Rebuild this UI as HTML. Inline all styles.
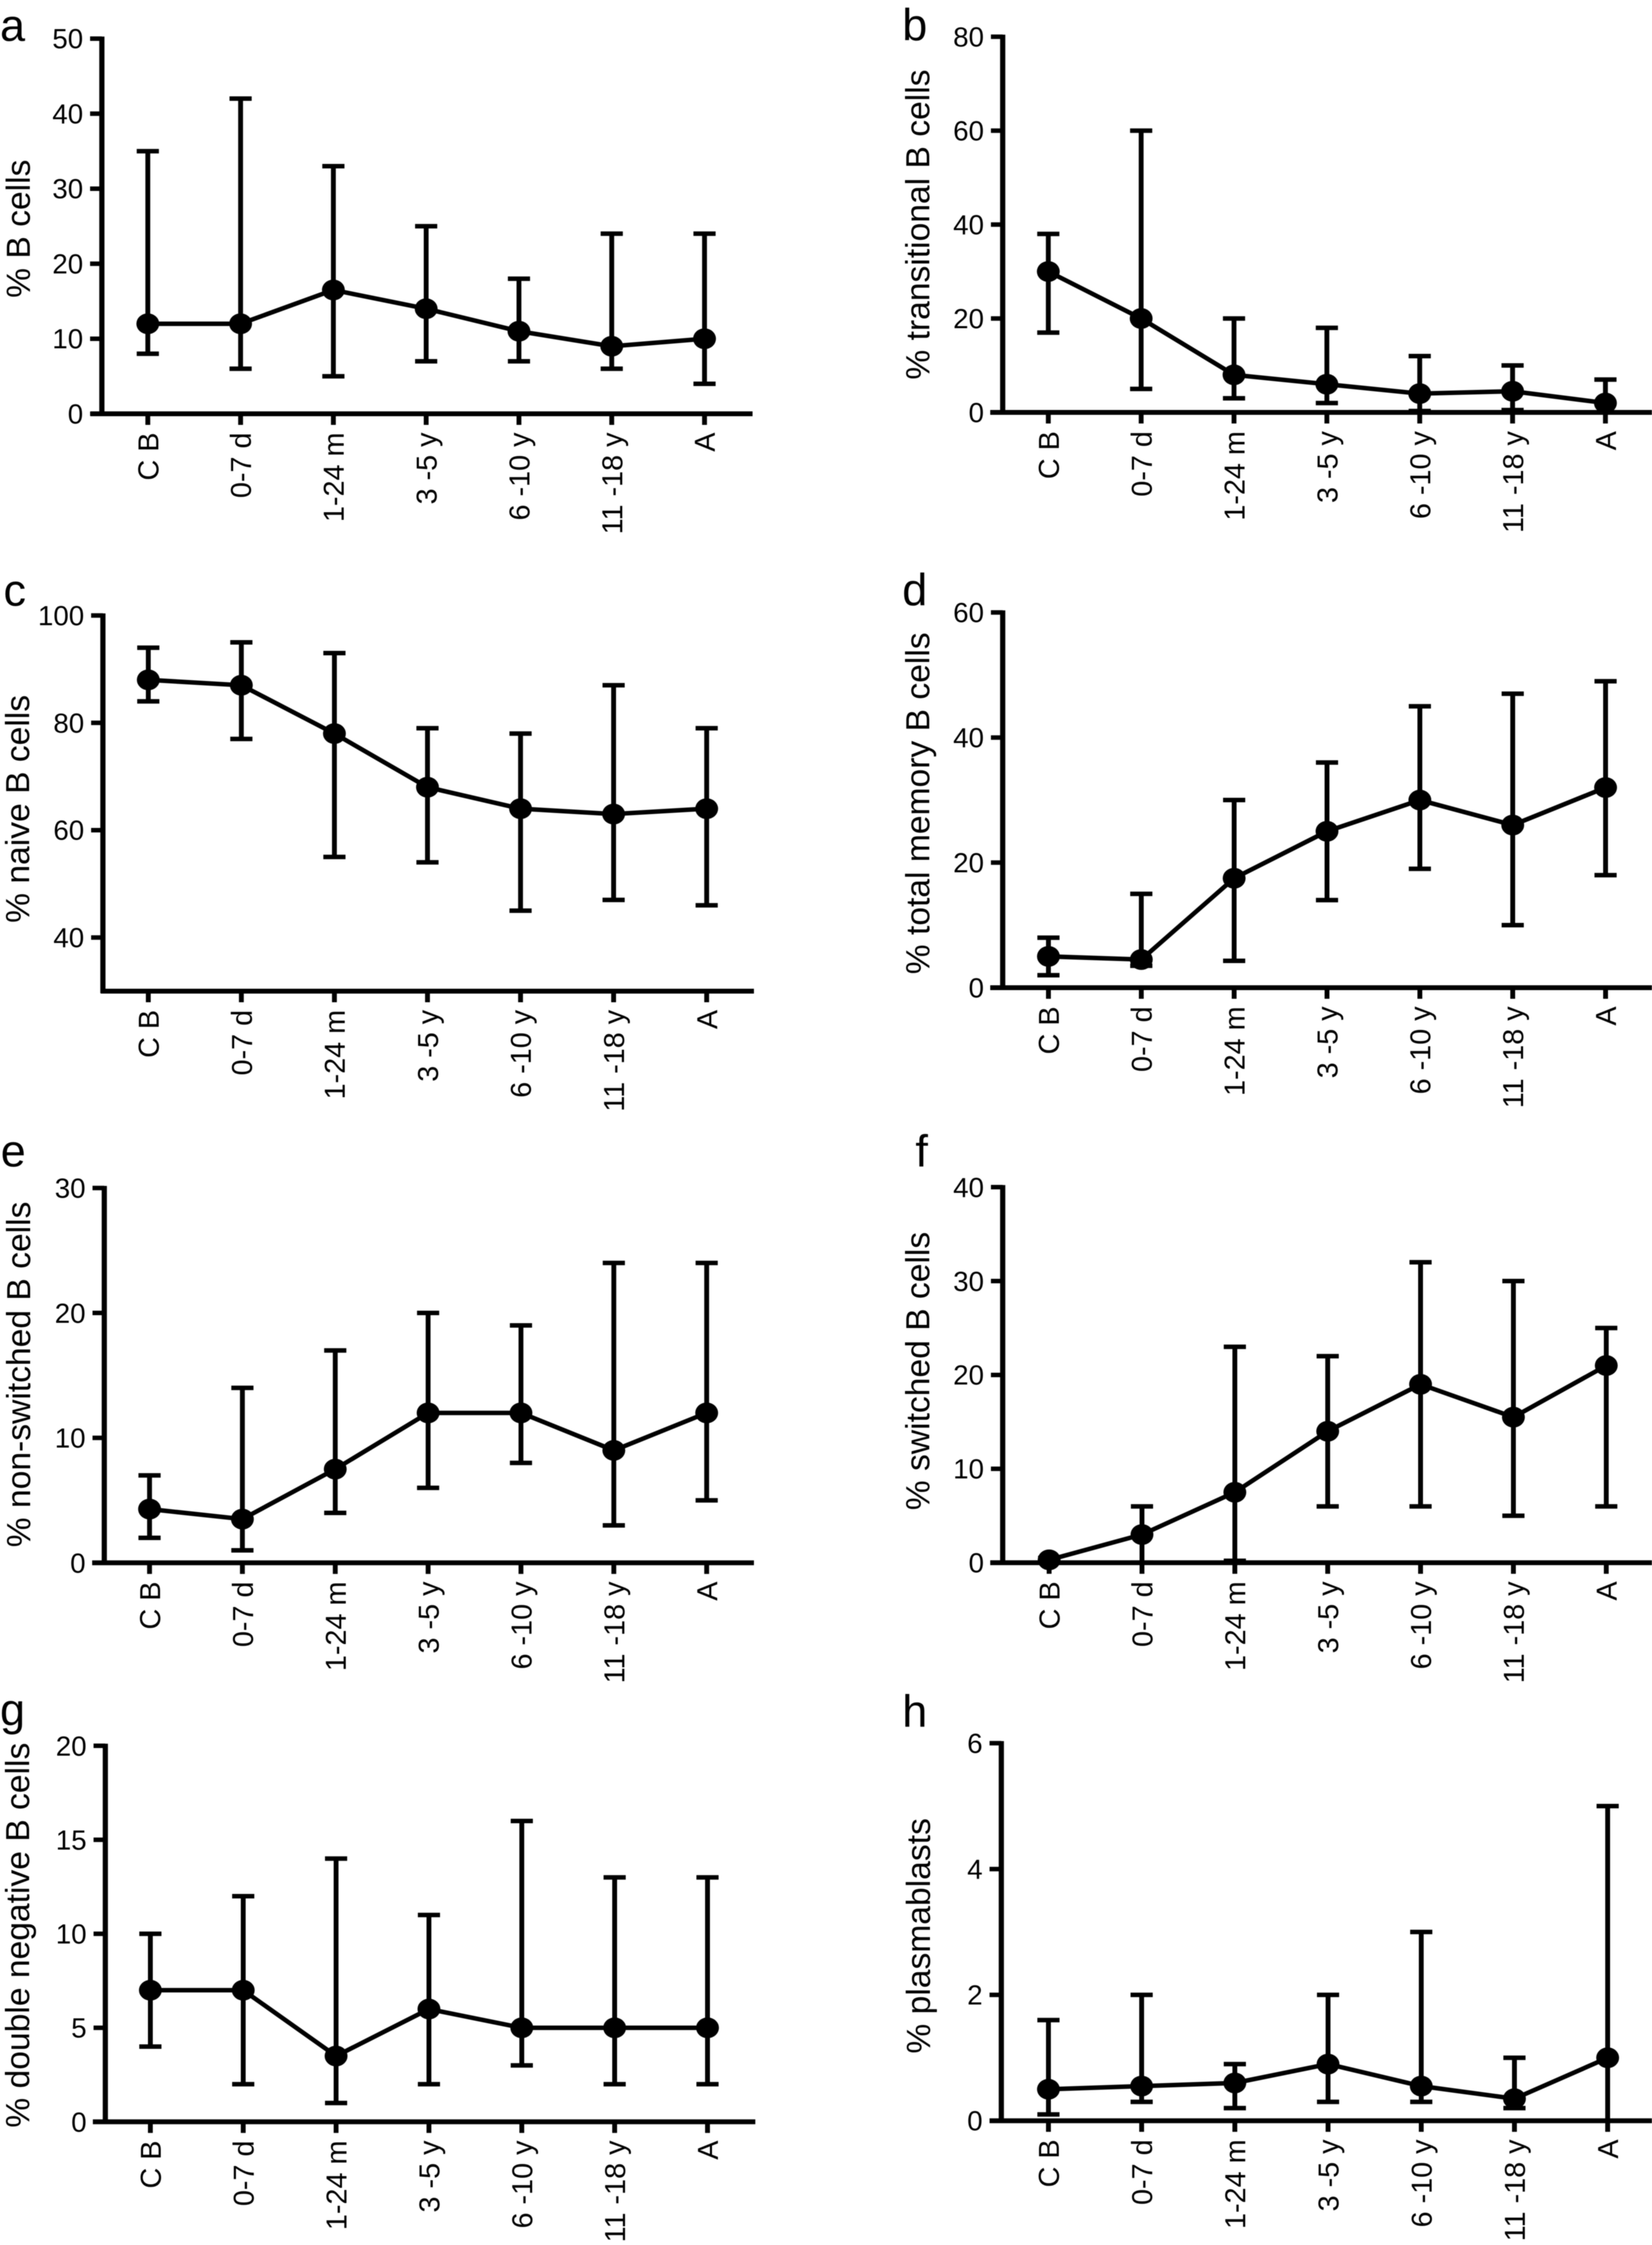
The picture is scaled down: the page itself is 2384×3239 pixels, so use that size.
<!DOCTYPE html>
<html lang="en">
<head>
<meta charset="utf-8">
<title>B cell subsets by age group</title>
<style>
html,body{margin:0;padding:0;background:#fff;width:2384px;height:3239px;overflow:hidden}
svg{display:block;position:absolute;left:0;top:0;filter:blur(.6px)}
text{font-family:"Liberation Sans",sans-serif;fill:#000}
</style>
</head>
<body>
<svg id="fig" xmlns="http://www.w3.org/2000/svg" width="2384" height="3239" viewBox="0 0 2384 3239"></svg>
<script>
const categories = ["C B","0-7 d","1-24 m","3 -5 y","6 -10 y","11 -18 y","A"];

const medianA = [12,12,16.5,14,11,9,10];
const lowerA  = [8,6,5,7,7,6,4];
const upperA  = [35,42,33,25,18,24,24];
const ticksA  = [0,10,20,30,40,50];

const medianB = [30,20,8,6,4,4.5,2];
const lowerB  = [17,5,3,2,0.3,0.5,0];
const upperB  = [38,60,20,18,12,10,7];
const ticksB  = [0,20,40,60,80];

const medianC = [88,87,78,68,64,63,64];
const lowerC  = [84,77,55,54,45,47,46];
const upperC  = [94,95,93,79,78,87,79];
const ticksC  = [40,60,80,100];

const medianD = [5,4.5,17.5,25,30,26,32];
const lowerD  = [2,3.5,4.3,14,19,10,18];
const upperD  = [8,15,30,36,45,47,49];
const ticksD  = [0,20,40,60];

const medianE = [4.3,3.5,7.5,12,12,9,12];
const lowerE  = [2,1,4,6,8,3,5];
const upperE  = [7,14,17,20,19,24,24];
const ticksE  = [0,10,20,30];

const medianF = [0.3,3,7.5,14,19,15.5,21];
const lowerF  = [0,0,0.2,6,6,5,6];
const upperF  = [0.5,6,23,22,32,30,25];
const ticksF  = [0,10,20,30,40];

const medianG = [7,7,3.5,6,5,5,5];
const lowerG  = [4,2,1,2,3,2,2];
const upperG  = [10,12,14,11,16,13,13];
const ticksG  = [0,5,10,15,20];

const medianH = [0.5,0.55,0.6,0.9,0.55,0.35,1];
const lowerH  = [0.1,0.3,0.2,0.3,0.3,0.2,0];
const upperH  = [1.6,2,0.9,2,3,1,5];
const ticksH  = [0,2,4,6];

const NS = "http://www.w3.org/2000/svg";
const root = document.getElementById("fig");

function mk(parent, tag, attrs, txt) {
  const el = document.createElementNS(NS, tag);
  for (const k in attrs) el.setAttribute(k, attrs[k]);
  if (txt !== undefined) el.textContent = txt;
  parent.appendChild(el);
  return el;
}

function drawPanel(p) {
  const g = mk(root, "g", {});
  
  

  const domainMin = p.domain[0], domainMax = p.domain[1];
  const yScale = v => p.yBase + (v - domainMin) / (domainMax - domainMin) * (p.yTop - p.yBase);
  const xScale = i => p.xFirst + i * p.step;

  const letter = mk(g, "text", {x: p.letterX, y: p.letterY, "font-size": 65}, p.id);
  
  

  const title = mk(g, "text", {
    transform: "translate(" + p.titleX + "," + p.titleY + ") rotate(-90)",
    "text-anchor": "middle", "font-size": 48.5
  }, p.title);
  
  

  const yAxis = mk(g, "line", {x1: p.axisX, x2: p.axisX, y1: p.yTop - 3, y2: p.yBase + 3, stroke: "#000", "stroke-width": 7.5});
  
  

  const xAxis = mk(g, "line", {x1: p.baseFrom, x2: p.xEnd, y1: p.yBase, y2: p.yBase, stroke: "#000", "stroke-width": 7});
  
  

  p.ticks.forEach(function (t) {
    const y = yScale(t);
    const tick = mk(g, "line", {x1: p.axisX - 17, x2: p.axisX, y1: y, y2: y, stroke: "#000", "stroke-width": 6.5});
    
    
    const lab = mk(g, "text", {x: p.axisX - 27, y: y + 14, "text-anchor": "end", "font-size": 40}, String(t));
    
    
  });

  categories.forEach(function (c, i) {
    const x = xScale(i);
    const tick = mk(g, "line", {x1: x, x2: x, y1: p.yBase, y2: p.yBase + 16, stroke: "#000", "stroke-width": 7});
    
    
    const lab = mk(g, "text", {
      transform: "translate(" + (x + 15) + "," + (p.yBase + 27) + ") rotate(-90)",
      "text-anchor": "end", "font-size": 41.5
    }, c);
    
    
  });

  const pts = p.median.map((m, i) => xScale(i) + "," + yScale(m)).join(" ");
  const line = mk(g, "polyline", {points: pts, fill: "none", stroke: "#000", "stroke-width": 6.5});
  
  

  p.median.forEach(function (m, i) {
    const x = xScale(i);
    const yHi = yScale(p.upper[i]), yLo = yScale(p.lower[i]);
    const stem = mk(g, "line", {x1: x, x2: x, y1: yHi, y2: yLo, stroke: "#000", "stroke-width": 7});
    
    
    const capHi = mk(g, "line", {x1: x - 16, x2: x + 16, y1: yHi, y2: yHi, stroke: "#000", "stroke-width": 6.5});
    
    
    const capLo = mk(g, "line", {x1: x - 16, x2: x + 16, y1: yLo, y2: yLo, stroke: "#000", "stroke-width": 6.5});
    
    
    const dot = mk(g, "ellipse", {cx: x, cy: yScale(m), rx: 16.5, ry: 15, fill: "#000"});
    
    
  });
}

drawPanel({id:"a", title:"% B cells", median:medianA, lower:lowerA, upper:upperA, ticks:ticksA, domain:[0,50],
  axisX:147, baseFrom:130.7, xEnd:1086, yTop:55.7, yBase:597, xFirst:213.3, step:133.9,
  titleX:43, titleY:330, letterX:0, letterY:59});
drawPanel({id:"b", title:"% transitional B cells", median:medianB, lower:lowerB, upper:upperB, ticks:ticksB, domain:[0,80],
  axisX:1447, baseFrom:1429, xEnd:2384, yTop:53, yBase:595, xFirst:1512.8, step:134,
  titleX:1341, titleY:324, letterX:1302, letterY:58});
drawPanel({id:"c", title:"% naive B cells", median:medianC, lower:lowerC, upper:upperC, ticks:ticksC, domain:[30,100],
  axisX:148.5, baseFrom:145.5, xEnd:1088, yTop:888, yBase:1430, xFirst:214, step:134.3,
  titleX:42, titleY:1167, letterX:5, letterY:874});
drawPanel({id:"d", title:"% total memory B cells", median:medianD, lower:lowerD, upper:upperD, ticks:ticksD, domain:[0,60],
  axisX:1447, baseFrom:1429, xEnd:2384, yTop:883.6, yBase:1425, xFirst:1513, step:134,
  titleX:1341, titleY:1159, letterX:1302, letterY:873});
drawPanel({id:"e", title:"% non-switched B cells", median:medianE, lower:lowerE, upper:upperE, ticks:ticksE, domain:[0,30],
  axisX:150.5, baseFrom:133, xEnd:1088, yTop:1714, yBase:2254.8, xFirst:215.8, step:134,
  titleX:43.4, titleY:1983, letterX:1, letterY:1683});
drawPanel({id:"f", title:"% switched B cells", median:medianF, lower:lowerF, upper:upperF, ticks:ticksF, domain:[0,40],
  axisX:1447, baseFrom:1429, xEnd:2384, yTop:1712.8, yBase:2254.6, xFirst:1514, step:134,
  titleX:1341, titleY:1978, letterX:1321, letterY:1683});
drawPanel({id:"g", title:"% double negative B cells", median:medianG, lower:lowerG, upper:upperG, ticks:ticksG, domain:[0,20],
  axisX:152, baseFrom:134, xEnd:1090, yTop:2518.8, yBase:3061.3, xFirst:217, step:134,
  titleX:42, titleY:2792, letterX:0, letterY:2489});
drawPanel({id:"h", title:"% plasmablasts", median:medianH, lower:lowerH, upper:upperH, ticks:ticksH, domain:[0,6],
  axisX:1445, baseFrom:1428, xEnd:2384, yTop:2515, yBase:3059.7, xFirst:1513, step:134.5,
  titleX:1342, titleY:2793, letterX:1302, letterY:2491});
</script>
</body>
</html>
